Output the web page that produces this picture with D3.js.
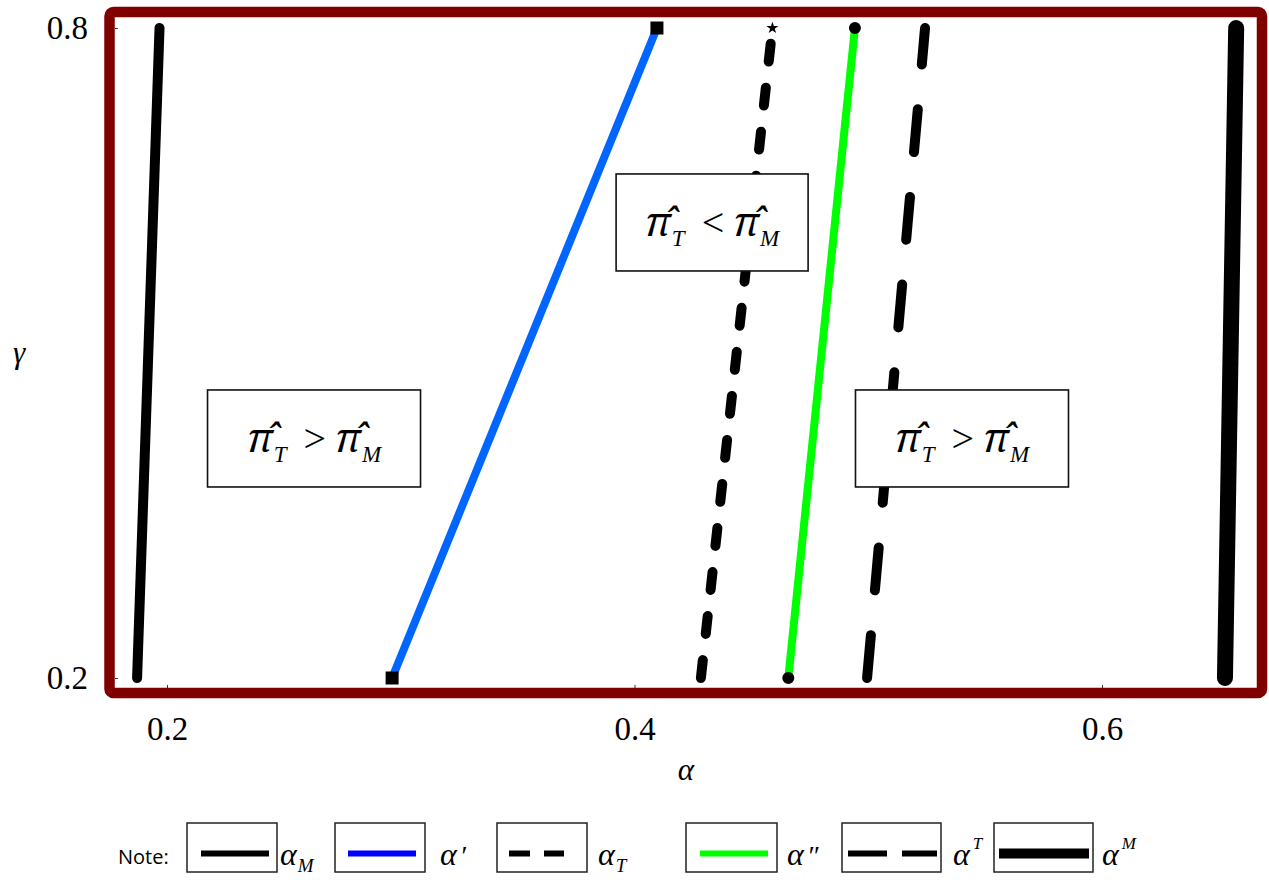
<!DOCTYPE html>
<html>
<head>
<meta charset="utf-8">
<script src="https://cdn.jsdelivr.net/npm/d3@7"></script>
<style>
html,body{margin:0;padding:0;background:#fff;}
svg{display:block;}
</style>
</head>
<body>
<svg id="chart" width="1269" height="880"></svg>
<script>
// ---------------- data ----------------
const gammaEnds = [0.2, 0.8];
const seriesNames = ["alpha_M", "alpha_prime", "alpha_T", "alpha_dprime", "alpha^T", "alpha^M"];
const alphaAtLowGamma  = [0.1872, 0.2963, 0.4284, 0.4658, 0.4995, 0.6526];
const alphaAtHighGamma = [0.1968, 0.4096, 0.4590, 0.4943, 0.5243, 0.6574];
const xTickValues = [0.2, 0.4, 0.6];
const yTickValues = [0.2, 0.8];
const noteAlpha = [0.2629, 0.4332, 0.5401];
const noteGamma = [0.4211, 0.6205, 0.4211];
const noteRelation = [">", "<", ">"];
const legendSub = ["M", "", "T", "", "", ""];
const legendSup = ["", "", "", "", "T", "M"];
const legendPrime = ["", "\u2032", "", "\u2033", "", ""];

// ---------------- styles ----------------
const lineColor = ["#000", "#0066ff", "#000", "#00ff00", "#000", "#000"];
const legendColor = ["#000", "#0000ff", "#000", "#00ff00", "#000", "#000"];
const lineWidth = [10, 8, 10, 8, 10, 16];
const lineDash = [null, null, "18,26.3", null, "43,45", null];
const legendDash = [null, null, "21,14", null, "39,15", null];
const legendLineW = [6, 6, 6, 6, 6, 10];
const markerLow = [null, "square", null, "circle", null, null];
const markerHigh = [null, "square", "star", "circle", null, null];
const legendBoxX = [187, 335, 497, 686, 842, 994];
const legendBoxW = [90, 90, 90, 91, 99, 99];
const legendLineX = [[201,269],[348,416],[509,564],[700,768],[848,937],[999,1089]];
const legendLabelX = [280, 440, 598, 787, 953, 1102];
const SERIF = '"Liberation Serif", "Times New Roman", serif';
const HATSERIF = '"Noto Serif", "DejaVu Serif", serif';
const SANS = '"Open Sans", "Liberation Sans", sans-serif';

const svg = d3.select("#chart");
const x = d3.scaleLinear().domain([0.2, 0.6]).range([167, 1102]);
const y = d3.scaleLinear().domain([0.2, 0.8]).range([678, 28]);

// ---------------- lines ----------------
const series = seriesNames.map((n, i) => ({
  name: n, i,
  pts: [[alphaAtLowGamma[i], gammaEnds[0]], [alphaAtHighGamma[i], gammaEnds[1]]]
}));
const line = d3.line().x(d => x(d[0])).y(d => y(d[1]));
svg.append("g").selectAll("path").data(series).join("path")
  .attr("d", d => line(d.pts))
  .attr("fill", "none")
  .attr("stroke", d => lineColor[d.i])
  .attr("stroke-width", d => lineWidth[d.i])
  .attr("stroke-linecap", "round")
  .attr("stroke-dasharray", d => lineDash[d.i]);

// markers
const markers = [];
series.forEach(s => {
  if (markerLow[s.i]) markers.push({t: markerLow[s.i], p: s.pts[0]});
  if (markerHigh[s.i]) markers.push({t: markerHigh[s.i], p: s.pts[1]});
});
const symType = {square: d3.symbolSquare, circle: d3.symbolCircle, star: d3.symbolStar};
const symSize = {square: 169, circle: 113, star: 45};
svg.append("g").selectAll("path").data(markers).join("path")
  .attr("transform", d => `translate(${x(d.p[0])},${y(d.p[1])})`)
  .attr("d", d => d3.symbol(symType[d.t], symSize[d.t])())
  .attr("fill", "#000");

// ---------------- math helper ----------------
function measure(str, fam, size, italic) {
  const t = svg.append("text").style("font-family", fam)
    .style("font-size", size + "px").style("font-style", italic ? "italic" : "normal")
    .text(str);
  const w = t.node().getComputedTextLength();
  t.remove();
  return w;
}
function drawMath(g, pieces, cx, baseline) {
  let cur = 0;
  const pos = [];
  pieces.forEach(p => {
    cur += p.dxBefore || 0;
    const w = measure(p.t, p.fam, p.size, p.italic);
    pos.push({p, x: cur});
    cur += w + (p.dxAfter || 0);
  });
  const x0 = cx - cur / 2;
  const t = g.append("text").style("font-family", SERIF).attr("fill", "#000");
  pos.forEach(({p, x: px}) => {
    t.append("tspan")
      .attr("x", x0 + px).attr("y", baseline + (p.dy || 0))
      .style("font-family", p.fam)
      .style("font-size", p.size + "px")
      .style("font-style", p.italic ? "italic" : "normal")
      .text(p.t);
  });
}

// ---------------- annotation boxes ----------------
const noteG = svg.append("g");
noteAlpha.forEach((a, i) => {
  const cx = x(a), cy = y(noteGamma[i]);
  const bw = i === 1 ? 192 : 213, bh = 97;
  noteG.append("rect")
    .attr("x", cx - bw / 2).attr("y", cy - bh / 2)
    .attr("width", bw).attr("height", bh)
    .attr("fill", "#fff").attr("stroke", "#111").attr("stroke-width", 1.6);
  drawMath(noteG, [
    {t: "\u03C0\u0302", fam: HATSERIF, size: 40, italic: true},
    {t: "T", fam: SERIF, size: 23, italic: true, dy: 10, dxBefore: 1},
    {t: noteRelation[i], fam: SERIF, size: 40, dxBefore: 17, dxAfter: 9},
    {t: "\u03C0\u0302", fam: HATSERIF, size: 40, italic: true},
    {t: "M", fam: SERIF, size: 23, italic: true, dy: 10, dxBefore: 1}
  ], cx, cy - bh / 2 + 62);
});

// ---------------- frame ----------------
svg.append("rect")
  .attr("x", 109.5).attr("y", 12)
  .attr("width", 1262 - 109.5).attr("height", 693 - 12)
  .attr("rx", 4)
  .attr("fill", "none").attr("stroke", "#800000").attr("stroke-width", 10.5);

// ---------------- axes ----------------
const yAxis = d3.axisLeft(y).tickValues(yTickValues).tickFormat(d3.format(".1f"))
  .tickSize(-3).tickPadding(27);
const gy = svg.append("g").attr("transform", "translate(115,0)").call(yAxis);
const xAxis = d3.axisBottom(x).tickValues(xTickValues).tickFormat(d3.format(".1f"))
  .tickSize(-3).tickPadding(29);
const gx = svg.append("g").attr("transform", "translate(0,688)").call(xAxis);
[gx, gy].forEach(g => {
  g.attr("font-family", null).attr("font-size", null);
  g.select(".domain").remove();
  g.selectAll("line").attr("stroke", "#000").attr("stroke-width", 0.8);
  g.selectAll("text").style("font-family", SERIF).style("font-size", "33px").attr("fill", "#000");
});

svg.append("text").style("font-family", SERIF).attr("x", 686).attr("y", 780)
  .attr("text-anchor", "middle")
  .style("font-style", "italic").style("font-size", "31px").text("\u03B1");
svg.append("text").style("font-family", SERIF).attr("x", 19).attr("y", 363)
  .attr("text-anchor", "middle")
  .style("font-style", "italic").style("font-size", "31px").text("\u03B3");

// ---------------- legend ----------------
const lg = svg.append("g");
lg.append("text").style("font-family", SANS).attr("x", 118).attr("y", 864)
  .style("font-size", "20px").attr("fill", "#000").text("Note:");
seriesNames.forEach((n, i) => {
  lg.append("rect")
    .attr("x", legendBoxX[i]).attr("y", 823)
    .attr("width", legendBoxW[i]).attr("height", 49)
    .attr("fill", "#fff").attr("stroke", "#222").attr("stroke-width", 1.5);
  lg.append("line")
    .attr("x1", legendLineX[i][0]).attr("x2", legendLineX[i][1])
    .attr("y1", 853.5).attr("y2", 853.5)
    .attr("stroke", legendColor[i]).attr("stroke-width", legendLineW[i])
    .attr("stroke-dasharray", legendDash[i]);
  const t = lg.append("text").style("font-family", SERIF).attr("x", legendLabelX[i]).attr("y", 865)
    .style("font-style", "italic").style("font-size", "32px").attr("fill", "#000");
  t.append("tspan").text("\u03B1");
  if (legendSub[i]) t.append("tspan").style("font-size", "19px").attr("dy", 7).attr("dx", 1).text(legendSub[i]);
  if (legendSup[i]) t.append("tspan").style("font-size", "17px").attr("dy", -16).attr("dx", 3).text(legendSup[i]);
  if (legendPrime[i]) t.append("tspan").style("font-size", "28px").attr("dx", 3).text(legendPrime[i]);
});
</script>
</body>
</html>
